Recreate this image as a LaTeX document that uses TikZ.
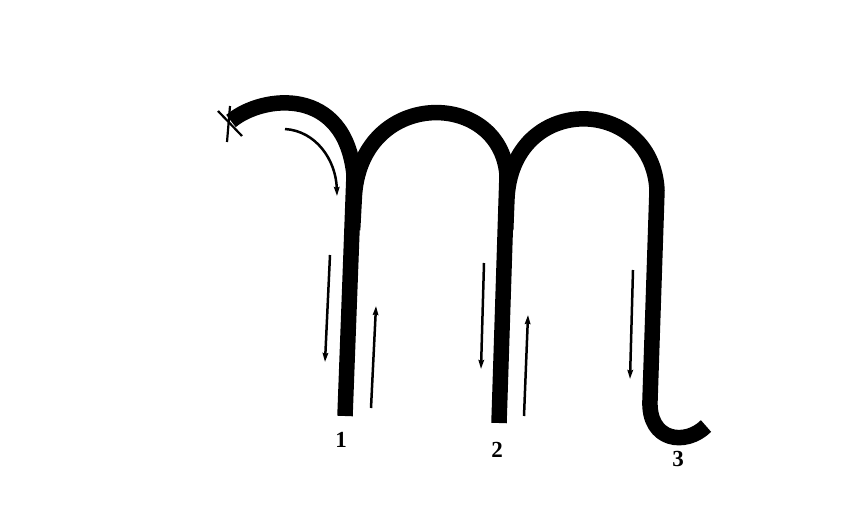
\documentclass[tikz,border=0pt]{standalone}
\usepackage{fontspec}
\setmainfont{Liberation Serif}
\usetikzlibrary{arrows.meta}
\begin{document}
\begin{tikzpicture}[x=1pt,y=-1pt,
  strokeline/.style={line width=15.5pt,line cap=butt,line join=round,black},
  guide/.style={line width=2.5pt,black,-{Stealth[length=9pt,width=5.5pt,inset=1pt]}},
  thinmark/.style={line width=2.2pt,black},
  numlabel/.style={font=\fontsize{23}{23}\selectfont\bfseries,inner sep=0pt}]
\useasboundingbox (0,0) rectangle (862,509);
% key points
\coordinate (start) at (231,121);
\coordinate (j1) at (354,175);
\coordinate (b1) at (345,416);
\coordinate (a1in) at (352.6,230);
\coordinate (a1s) at (354.2,200);
\coordinate (j2) at (507,175);
\coordinate (b2) at (499,423);
\coordinate (a2in) at (505.7,230);
\coordinate (a2s) at (506.9,200);
\coordinate (j3) at (657,190);
\coordinate (h3) at (650,400);
\coordinate (e3) at (706,426);
% the letter strokes
\draw[strokeline] (start) .. controls (262,95) and (345,85) .. (j1) -- (b1);
\draw[strokeline] (a1in) -- (a1s) .. controls (358,88) and (500,88) .. (j2) -- (b2);
\draw[strokeline] (a2in) -- (a2s) .. controls (511,92) and (652,95) .. (j3) -- (h3)
   .. controls (648,442) and (686,446) .. (e3);
% start mark
\coordinate (x1a) at (218,111); \coordinate (x1b) at (242,136);
\coordinate (x2a) at (230,106); \coordinate (x2b) at (227,142);
\draw[thinmark] (x1a) -- (x1b);
\draw[thinmark] (x2a) -- (x2b);
% direction arrows
\coordinate (c0) at (285,129); \coordinate (c1) at (337,196);
\draw[guide] (c0) .. controls (316,131) and (336,160) .. (c1);
\coordinate (p1) at (330,255); \coordinate (p2) at (325,362);
\draw[guide] (p1) -- (p2);
\coordinate (q1) at (371,408); \coordinate (q2) at (376,306);
\draw[guide] (q1) -- (q2);
\coordinate (r1) at (484,263); \coordinate (r2) at (481,369);
\draw[guide] (r1) -- (r2);
\coordinate (s1) at (524,416); \coordinate (s2) at (528,315);
\draw[guide] (s1) -- (s2);
\coordinate (t1) at (633,270); \coordinate (t2) at (630,379);
\draw[guide] (t1) -- (t2);
% labels
\node[numlabel] (n1) at (341,440) {1};
\node[numlabel] (n2) at (497,449.5) {2};
\node[numlabel] (n3) at (678,459) {3};
\end{tikzpicture}
\end{document}
